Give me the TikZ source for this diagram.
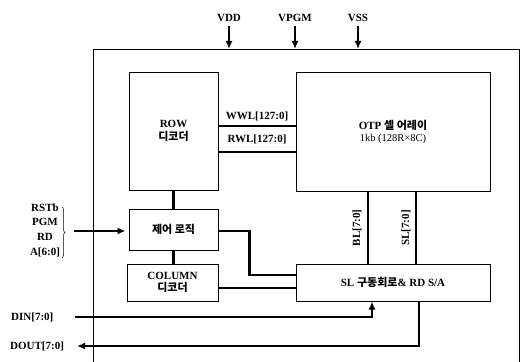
\documentclass[tikz,border=0pt]{standalone}
\usepackage{fontspec}
\setmainfont{Liberation Serif}
\newfontfamily\krfont{Noto Sans CJK KR}
\newcommand{\kr}[1]{{\krfont\bfseries #1}}
\usetikzlibrary{arrows.meta,decorations.pathreplacing}
\begin{document}
\begin{tikzpicture}[x=1pt,y=-1pt,
  box/.style={draw,line width=1pt,inner sep=0pt,align=center},
  bus/.style={line width=2.2pt},
  arr/.style={line width=2.2pt,-{Latex[length=8pt,width=7pt]}},
  lab/.style={inner sep=0pt,font=\fontsize{11}{13}\bfseries\selectfont},
  every node/.style={font=\fontsize{11}{13}\bfseries\selectfont}]
\useasboundingbox (0,0) rectangle (526,361);
% outer frame (continues below the picture)
\node[draw,line width=0.9pt,minimum width=426pt,minimum height=340pt,inner sep=0pt,anchor=north west] (outer) at (93,49) {};
% blocks
\node[box,minimum width=89pt,minimum height=118pt] (row) at (173.5,131) {ROW\\\kr{디코더}};
\node[box,minimum width=194pt,minimum height=119pt] (otp) at (393,131.5) {OTP \kr{셀 어레이}\\[-1pt]{\mdseries\fontsize{10.5}{12}\selectfont 1kb (128R×8C)}};
\node[box,minimum width=89pt,minimum height=41pt] (ctrl) at (173.5,229.5) {\kr{제어 로직}};
\node[box,minimum width=91pt,minimum height=37pt] (col) at (172.5,282.5) {COLUMN\\[-1pt]\kr{디코더}};
\node[box,minimum width=194pt,minimum height=37pt] (sl) at (393,282.5) {SL \kr{구동회로}\& RD S/A};
% power pins
\foreach \n/\t/\x in {vdd/VDD/229, vpgm/VPGM/295, vss/VSS/358}{
  \node[lab] (\n) at (\x,18) {\t};
  \coordinate (\n b) at (\x,49);
  \draw[arr] (\n.south) ++(0,4) coordinate (\n a) (\n a) -- (\n b);
}
% word lines
\coordinate (yw) at (0,126);
\coordinate (yr) at (0,152);
\draw[bus] (row.east |- yw) -- (otp.west |- yw);
\draw[bus] (row.east |- yr) -- (otp.west |- yr);
\node[lab] (wwl) at (257,116) {WWL[127:0]};
\node[lab] (rwl) at (257,139.5) {RWL[127:0]};
% vertical links
\draw[bus] (row.south) -- (ctrl.north);
\draw[bus] (ctrl.south) -- (ctrl.south |- col.north);
% bit / source lines
\coordinate (xbl) at (368,0);
\coordinate (xsl) at (416,0);
\draw[bus] (otp.south -| xbl) -- (sl.north -| xbl);
\draw[bus] (otp.south -| xsl) -- (sl.north -| xsl);
\node[lab,rotate=90] (bll) at (357,228) {BL[7:0]};
\node[lab,rotate=90] (sll) at (406,228) {SL[7:0]};
% control to SL
\coordinate (yc) at (0,231);
\coordinate (ys) at (0,275);
\coordinate (xm) at (249.5,0);
\draw[bus] (ctrl.east |- yc) -| (xm |- ys) -- (sl.west |- ys);
\coordinate (ycol) at (0,288);
\draw[bus] (col.east |- ycol) -- (sl.west |- ycol);
% inputs
\node[lab,align=center,font=\fontsize{11}{14.7}\bfseries\selectfont] (inl) at (45,230) {RSTb\\PGM\\RD\\A[6:0]};
\draw[line width=0.5pt,decorate,decoration={brace,amplitude=3pt}] (62,207) -- (62,258);
\coordinate (inp) at (74,231);
\draw[arr,shorten >=3pt] (inp) -- (ctrl.west |- inp);
% DIN / DOUT
\node[lab,anchor=west] (din) at (11,317) {DIN[7:0]};
\node[lab,anchor=west] (dout) at (10,346) {DOUT[7:0]};
\coordinate (dinS) at (75,317);
\coordinate (xdin) at (372,0);
\draw[arr] (dinS) -| (sl.south -| xdin);
\coordinate (doutE) at (77,346);
\coordinate (xdout) at (419,0);
\draw[arr] (sl.south -| xdout) |- (doutE);
\end{tikzpicture}
\end{document}
